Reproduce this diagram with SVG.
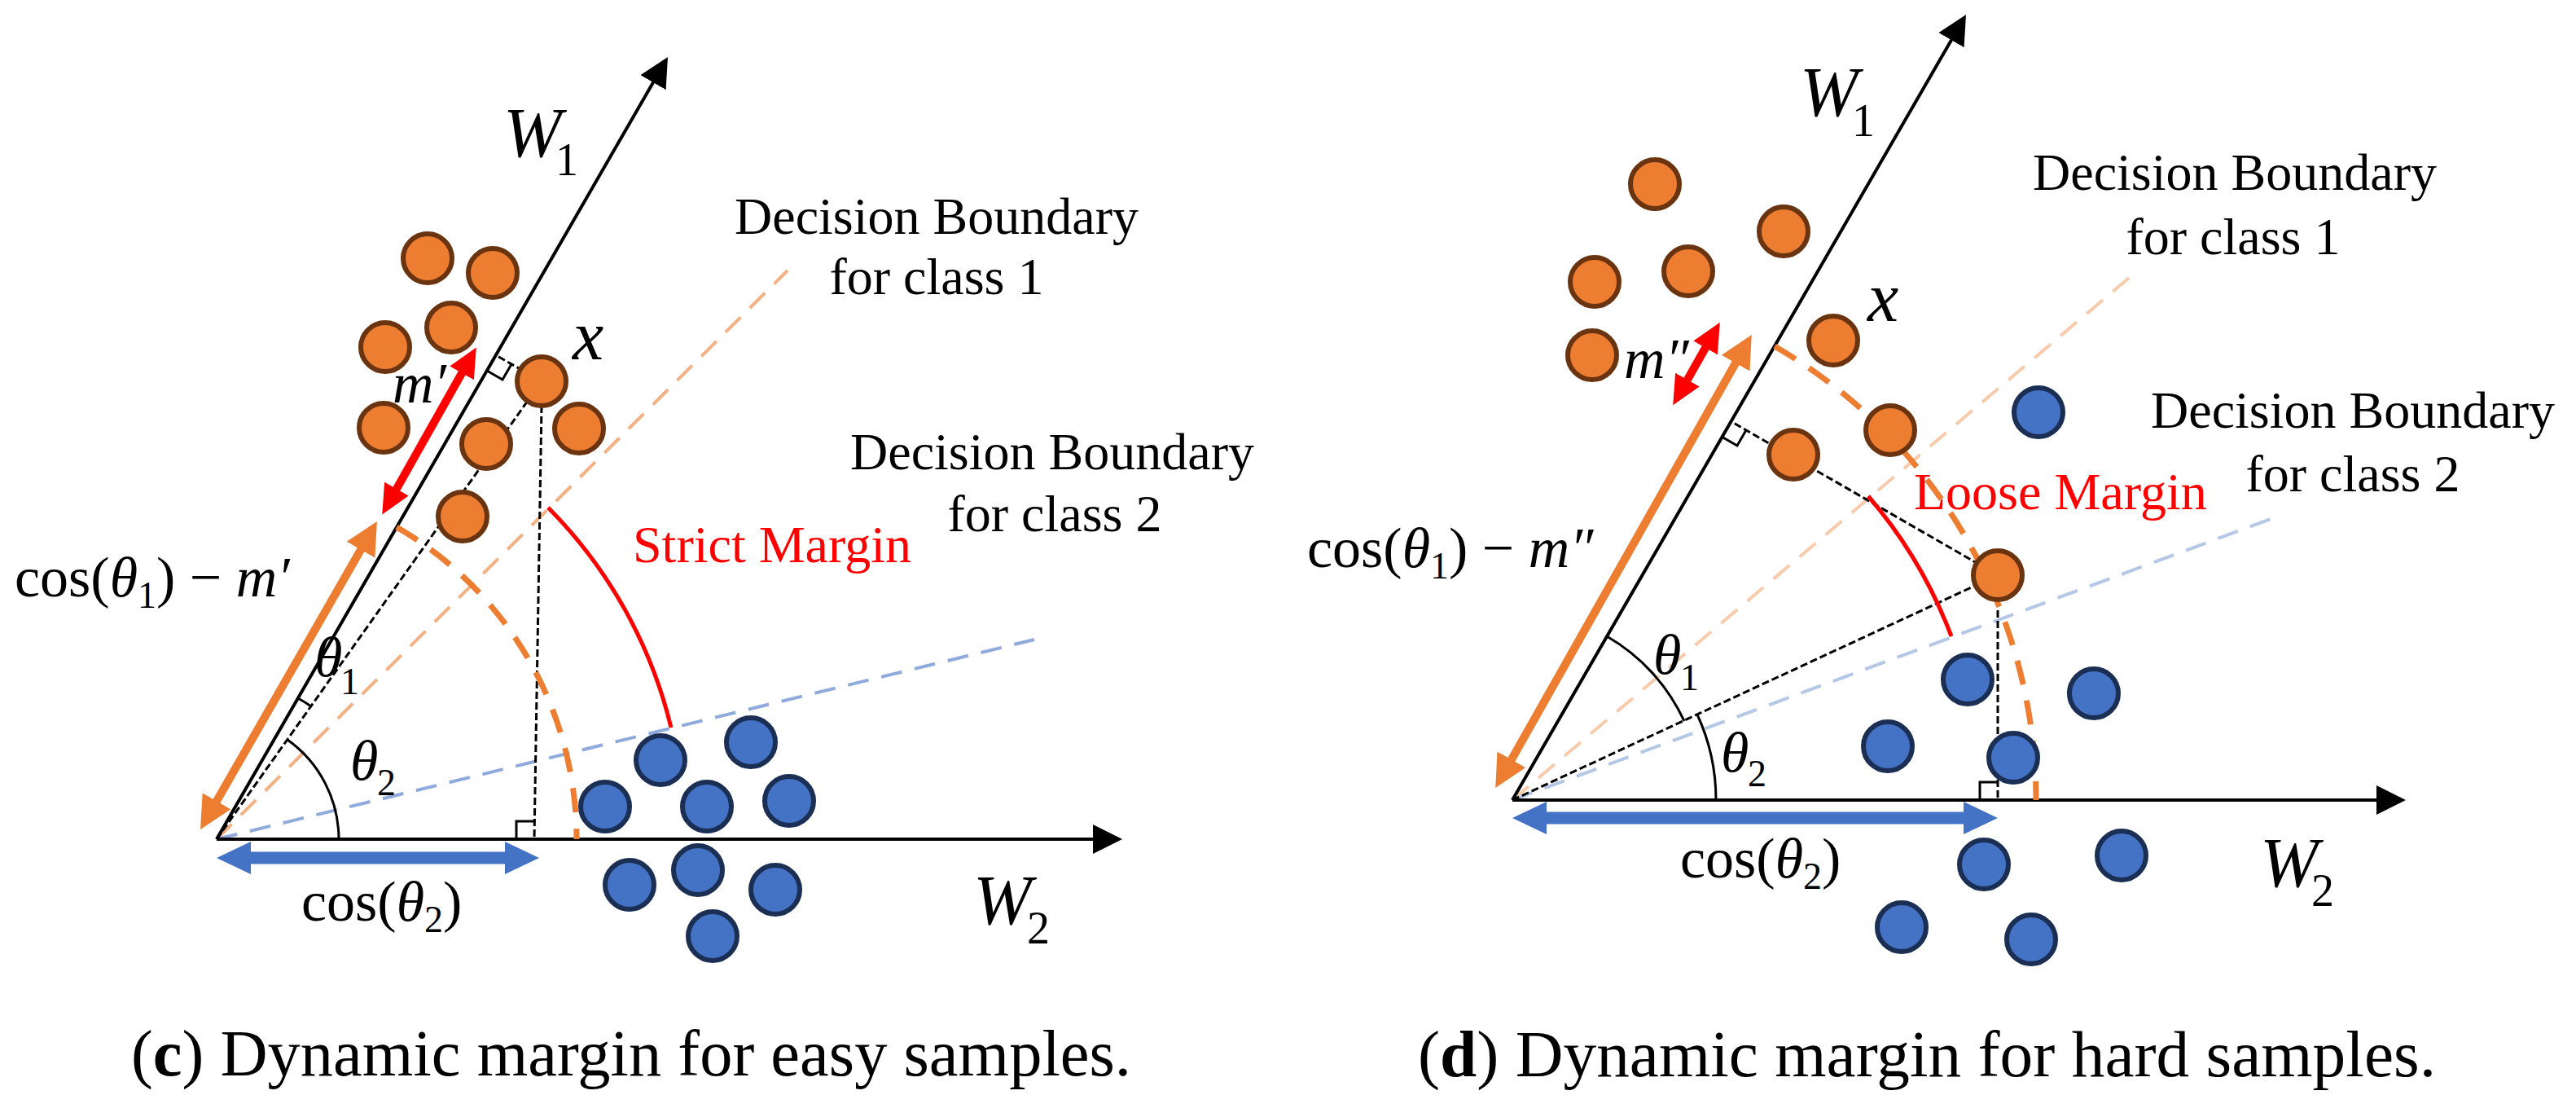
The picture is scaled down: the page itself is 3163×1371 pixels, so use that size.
<svg xmlns="http://www.w3.org/2000/svg" width="3163" height="1371" viewBox="0 0 3163 1371">
<style>
text{font-family:"Liberation Serif","Times New Roman",serif;fill:#000}
.it{font-style:italic}
.axis{stroke:#000;stroke-width:4;fill:none}
.dot{stroke:#000;stroke-width:3;stroke-dasharray:9 4;fill:none}
.thin{stroke:#000;stroke-width:3;fill:none}
.oc{fill:#ED7D31;stroke:#6B3410;stroke-width:6}
.bc{fill:#4472C4;stroke:#1B2F55;stroke-width:6}
.lbl{font-size:64px}
.red{fill:#FF0000}
</style>
<defs>
<marker id="ax" viewBox="0 0 36 36" markerWidth="36" markerHeight="36" markerUnits="userSpaceOnUse" refX="6" refY="18" orient="auto"><path d="M0,0 L36,18 L0,36 z" fill="#000"/></marker>
<marker id="ora" viewBox="0 0 40 40" markerWidth="40" markerHeight="40" markerUnits="userSpaceOnUse" refX="10" refY="20" orient="auto-start-reverse"><path d="M0,0 L40,20 L0,40 z" fill="#ED7D31"/></marker>
<marker id="blu" viewBox="0 0 42 40" markerWidth="42" markerHeight="40" markerUnits="userSpaceOnUse" refX="10" refY="20" orient="auto-start-reverse"><path d="M0,0 L42,20 L0,40 z" fill="#4472C4"/></marker>
<marker id="rda" viewBox="0 0 36 34" markerWidth="36" markerHeight="34" markerUnits="userSpaceOnUse" refX="8" refY="17" orient="auto-start-reverse"><path d="M0,0 L36,17 L0,34 z" fill="#FF0000"/></marker>
</defs>

<g id="connectors">
<line x1="266" y1="1030" x2="967" y2="332" stroke="#F4B183" stroke-width="4" stroke-dasharray="26 16"/>
<line x1="266" y1="1030" x2="1270" y2="785" stroke="#8FAADC" stroke-width="4" stroke-dasharray="26 16"/>
<line class="axis" x1="266" y1="1030" x2="805" y2="96" marker-end="url(#ax)"/>
<line class="axis" x1="266" y1="1030" x2="1348" y2="1030" marker-end="url(#ax)"/>
<line class="dot" x1="266" y1="1030" x2="665" y2="468"/>
<line class="dot" x1="665" y1="468" x2="609" y2="436"/>
<line class="dot" x1="665" y1="498" x2="656" y2="1030"/>
<path class="thin" d="M628,447 L617,466 L598,455"/>
<path class="thin" d="M634,1030 L634,1008 L656,1008"/>
<path d="M487,647 A442,442 0 0 1 708,1030" fill="none" stroke="#ED7D31" stroke-width="7" stroke-dasharray="30 20"/>
<path d="M673,623 A575,575 0 0 1 824,893" fill="none" stroke="#FF0000" stroke-width="5"/>
<path class="thin" d="M353,908 A150,150 0 0 1 416,1030"/>
<path class="thin" d="M366,857 A200,200 0 0 1 382,867"/>
<line x1="261" y1="992" x2="448" y2="666" stroke="#ED7D31" stroke-width="10" marker-start="url(#ora)" marker-end="url(#ora)"/>
<line x1="483" y1="607" x2="571" y2="451" stroke="#FF0000" stroke-width="10" marker-start="url(#rda)" marker-end="url(#rda)"/>
<line x1="298" y1="1053" x2="630" y2="1053" stroke="#4472C4" stroke-width="15" marker-start="url(#blu)" marker-end="url(#blu)"/>
<line x1="1857" y1="982" x2="2626" y2="331" stroke="#F8CBAD" stroke-width="4" stroke-dasharray="26 16"/>
<line x1="1857" y1="982" x2="2799" y2="633" stroke="#B4C7E7" stroke-width="4" stroke-dasharray="26 16"/>
<line class="axis" x1="1857" y1="982" x2="2399" y2="44" marker-end="url(#ax)"/>
<line class="axis" x1="1857" y1="982" x2="2924" y2="982" marker-end="url(#ax)"/>
<line class="dot" x1="1857" y1="982" x2="2453" y2="706"/>
<line class="dot" x1="2453" y1="706" x2="2125" y2="517"/>
<line class="dot" x1="2453" y1="736" x2="2453" y2="982"/>
<path class="thin" d="M2144,528 L2133,547 L2114,536"/>
<path class="thin" d="M2431,982 L2431,960 L2453,960"/>
<path d="M2179,425 A643,643 0 0 1 2500,982" fill="none" stroke="#ED7D31" stroke-width="7" stroke-dasharray="30 20"/>
<path d="M2294,609 A575,575 0 0 1 2396,781" fill="none" stroke="#FF0000" stroke-width="5"/>
<path class="thin" d="M1973,781 A232,232 0 0 1 2068,885"/>
<path class="thin" d="M2084,877 A250,250 0 0 1 2107,982"/>
<line x1="1851" y1="941" x2="2136" y2="437" stroke="#ED7D31" stroke-width="10" marker-start="url(#ora)" marker-end="url(#ora)"/>
<line x1="2068" y1="473" x2="2098" y2="420" stroke="#FF0000" stroke-width="10" marker-start="url(#rda)" marker-end="url(#rda)"/>
<line x1="1889" y1="1004" x2="2421" y2="1004" stroke="#4472C4" stroke-width="15" marker-start="url(#blu)" marker-end="url(#blu)"/>
</g>

<g id="left-class1">
<circle class="oc" cx="525" cy="317" r="30"/><circle class="oc" cx="605" cy="335" r="30"/>
<circle class="oc" cx="554" cy="402" r="30"/><circle class="oc" cx="473" cy="426" r="30"/>
<circle class="oc" cx="471" cy="525" r="30"/><circle class="oc" cx="597" cy="545" r="30"/>
<circle class="oc" cx="665" cy="468" r="30"/><circle class="oc" cx="711" cy="526" r="30"/>
<circle class="oc" cx="568" cy="634" r="30"/>
</g>
<g id="left-class2">
<circle class="bc" cx="811" cy="933" r="30"/><circle class="bc" cx="922" cy="911" r="30"/>
<circle class="bc" cx="868" cy="990" r="30"/><circle class="bc" cx="743" cy="990" r="30"/>
<circle class="bc" cx="969" cy="983" r="30"/><circle class="bc" cx="857" cy="1068" r="30"/>
<circle class="bc" cx="773" cy="1086" r="30"/><circle class="bc" cx="952" cy="1092" r="30"/>
<circle class="bc" cx="875" cy="1149" r="30"/>
</g>
<g id="right-class1">
<circle class="oc" cx="2032" cy="226" r="30"/><circle class="oc" cx="2190" cy="284" r="30"/>
<circle class="oc" cx="1958" cy="346" r="30"/><circle class="oc" cx="2073" cy="333" r="30"/>
<circle class="oc" cx="1955" cy="436" r="30"/><circle class="oc" cx="2251" cy="418" r="30"/>
<circle class="oc" cx="2321" cy="528" r="30"/><circle class="oc" cx="2202" cy="558" r="30"/>
<circle class="oc" cx="2453" cy="706" r="30"/>
</g>
<g id="right-class2">
<circle class="bc" cx="2503" cy="506" r="30"/><circle class="bc" cx="2416" cy="834" r="30"/>
<circle class="bc" cx="2571" cy="851" r="30"/><circle class="bc" cx="2318" cy="916" r="30"/>
<circle class="bc" cx="2472" cy="930" r="30"/><circle class="bc" cx="2436" cy="1061" r="30"/>
<circle class="bc" cx="2605" cy="1050" r="30"/><circle class="bc" cx="2335" cy="1138" r="30"/>
<circle class="bc" cx="2494" cy="1153" r="30"/>
</g>

<g id="left-labels">
<text class="it" x="618" y="192" font-size="86">W</text><text x="682" y="215" font-size="56">1</text>
<text class="lbl" x="1150" y="287" text-anchor="middle">Decision Boundary</text>
<text class="lbl" x="1150" y="361" text-anchor="middle">for class 1</text>
<text class="lbl" x="1292" y="576" text-anchor="middle">Decision Boundary</text>
<text class="lbl" x="1295" y="652" text-anchor="middle">for class 2</text>
<text class="lbl red" x="777" y="690">Strict Margin</text>
<text class="it" x="703" y="441" font-size="86">x</text>
<text class="it" x="482" y="494" font-size="70">m′</text>
<text x="18" y="732" font-size="70">cos(<tspan class="it">θ</tspan><tspan font-size="46" dy="14">1</tspan><tspan dy="-14">) − </tspan><tspan class="it">m′</tspan></text>
<text class="it" x="386" y="830" font-size="70">θ</text><text x="418" y="852" font-size="46">1</text>
<text class="it" x="430" y="957" font-size="70">θ</text><text x="463" y="976" font-size="46">2</text>
<text x="370" y="1130" font-size="70">cos(<tspan class="it">θ</tspan><tspan font-size="46" dy="14">2</tspan><tspan dy="-14">)</tspan></text>
<text class="it" x="1195" y="1134" font-size="86">W</text><text x="1261" y="1158" font-size="56">2</text>
<text x="161" y="1320" font-size="80" textLength="1228" lengthAdjust="spacingAndGlyphs">(<tspan font-weight="bold">c</tspan>) Dynamic margin for easy samples.</text>
</g>

<g id="right-labels">
<text class="it" x="2210" y="142" font-size="86">W</text><text x="2274" y="167" font-size="56">1</text>
<text class="lbl" x="2744" y="233" text-anchor="middle">Decision Boundary</text>
<text class="lbl" x="2742" y="312" text-anchor="middle">for class 1</text>
<text class="lbl" x="2889" y="525" text-anchor="middle">Decision Boundary</text>
<text class="lbl" x="2889" y="603" text-anchor="middle">for class 2</text>
<text class="lbl red" x="2350" y="625">Loose Margin</text>
<text class="it" x="2293" y="394" font-size="86">x</text>
<text class="it" x="1994" y="464" font-size="70">m″</text>
<text x="1605" y="696" font-size="70">cos(<tspan class="it">θ</tspan><tspan font-size="46" dy="14">1</tspan><tspan dy="-14">) − </tspan><tspan class="it">m″</tspan></text>
<text class="it" x="2030" y="827" font-size="70">θ</text><text x="2063" y="847" font-size="46">1</text>
<text class="it" x="2113" y="947" font-size="70">θ</text><text x="2146" y="965" font-size="46">2</text>
<text x="2063" y="1077" font-size="70">cos(<tspan class="it">θ</tspan><tspan font-size="46" dy="14">2</tspan><tspan dy="-14">)</tspan></text>
<text class="it" x="2775" y="1088" font-size="86">W</text><text x="2838" y="1112" font-size="56">2</text>
<text x="1741" y="1321" font-size="80" textLength="1250" lengthAdjust="spacingAndGlyphs">(<tspan font-weight="bold">d</tspan>) Dynamic margin for hard samples.</text>
</g>
</svg>
